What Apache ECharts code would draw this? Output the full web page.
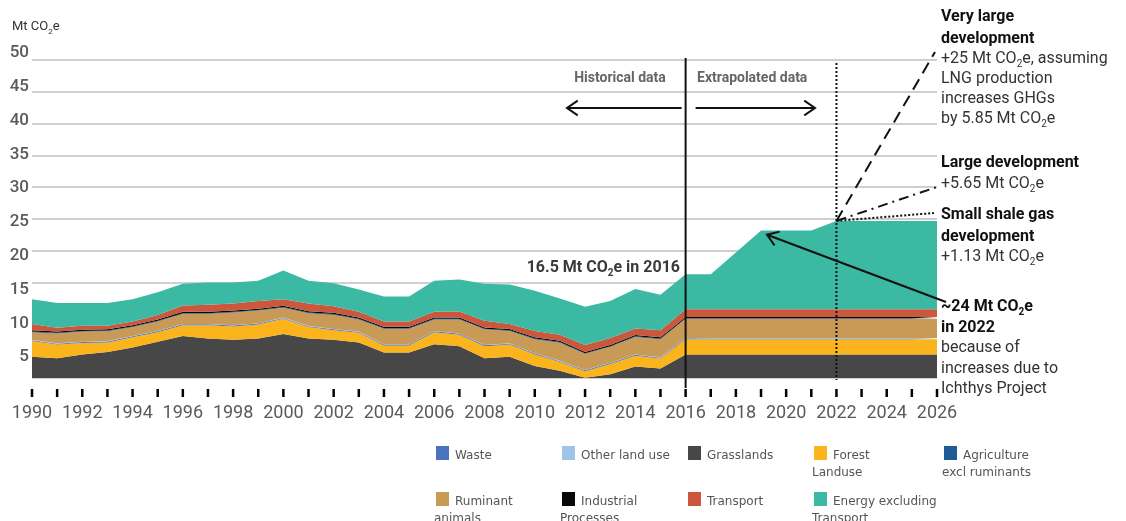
<!DOCTYPE html>
<html>
<head>
<meta charset="utf-8">
<script src="https://cdn.jsdelivr.net/npm/echarts@6/dist/echarts.min.js"></script>
<style>
html, body { margin: 0; padding: 0; background: #fff; }
#main { width: 1126px; height: 521px; }
</style>
</head>
<body>
<div id="main"></div>
<script>
// years on the x axis (historical to 2016, extrapolated after)
var years = ['1990','1991','1992','1993','1994','1995','1996','1997','1998','1999',
             '2000','2001','2002','2003','2004','2005','2006','2007','2008','2009',
             '2010','2011','2012','2013','2014','2015','2016','2017','2018','2019',
             '2020','2021','2022','2023','2024','2025','2026'];
var yTicks = [0, 5, 10, 15, 20, 25, 30, 35, 40, 45, 50];

// Mt CO2e by sector (stack order bottom -> top)
var grasslands = [3.35,3.1,3.7,4.1,4.8,5.7,6.6,6.2,6.0,6.2,6.9,6.2,6.0,5.6,4.0,4.0,5.3,5.0,3.1,3.35,
                  1.9,1.15,0.05,0.6,1.8,1.5,3.7,3.7,3.7,3.7,3.7,3.7,3.7,3.7,3.7,3.7,3.7];
var forest = [2.45,2.15,1.8,1.5,1.6,1.5,1.7,2.1,2.1,2.2,2.4,1.8,1.5,1.5,1.1,1.1,1.9,1.8,1.9,1.9,
              1.8,1.35,1.0,1.6,1.7,1.55,2.4,2.4,2.4,2.4,2.4,2.4,2.4,2.4,2.4,2.4,2.4];
var waste = [0.15,0.15,0.15,0.15,0.15,0.15,0.15,0.15,0.15,0.15,0.15,0.15,0.15,0.15,0.15,0.15,0.15,0.15,0.15,0.15,
             0.15,0.15,0.15,0.15,0.15,0.15,0.15,0.1,0.1,0.1,0.1,0.1,0.1,0.1,0.1,0.1,0.1];
var otherLand = [0.05,0.05,0.05,0.05,0.05,0.05,0.05,0.05,0.05,0.05,0.05,0.05,0.05,0.05,0.05,0.05,0.05,0.05,0.05,0.05,
                 0.05,0.05,0.05,0.05,0.05,0.05,0.05,0.1,0.1,0.1,0.1,0.1,0.1,0.1,0.1,0.1,0.1];
var ruminant = [1.2,1.55,1.6,1.55,1.4,1.5,1.6,1.6,2.0,2.0,1.55,2.0,2.25,1.9,2.45,2.45,1.8,2.2,2.45,1.95,
                2.2,2.85,2.55,2.5,2.75,2.85,3.0,3.0,3.0,3.0,3.0,3.0,3.0,3.0,3.0,3.0,3.0];
var agriculture = [0.1,0.1,0.1,0.1,0.1,0.1,0.1,0.1,0.1,0.1,0.1,0.1,0.1,0.1,0.1,0.1,0.1,0.1,0.1,0.1,
                   0.1,0.1,0.1,0.1,0.1,0.1,0.1,0.1,0.1,0.1,0.1,0.1,0.1,0.1,0.1,0.1,0.1];
var industrial = [0.2,0.2,0.2,0.2,0.2,0.2,0.2,0.2,0.2,0.2,0.2,0.2,0.2,0.2,0.2,0.2,0.2,0.2,0.2,0.2,
                  0.2,0.2,0.2,0.2,0.2,0.2,0.2,0.2,0.2,0.2,0.2,0.2,0.2,0.2,0.2,0.2,0.2];
var transport = [1.0,0.6,0.6,0.55,0.6,0.7,1.0,1.1,1.1,1.2,1.05,1.2,1.05,0.9,0.85,0.85,0.9,0.95,1.05,0.8,
                 1.0,0.95,1.1,1.1,1.05,1.1,1.2,1.2,1.2,1.2,1.2,1.2,1.2,1.2,1.2,1.2,1.2];
var energy = [3.9,3.9,3.6,3.6,3.5,3.6,3.4,3.5,3.3,3.2,4.5,3.6,3.6,3.5,3.9,3.9,4.9,5.05,5.8,6.2,
              6.3,5.7,6.0,5.8,6.2,5.6,5.5,5.5,8.95,12.4,12.4,12.4,13.9,13.9,13.9,13.9,13.9];

var stackNames = ['Grasslands','Forest Landuse','Waste','Other land use','Ruminant animals',
                  'Agriculture excl ruminants','Industrial Processes','Transport','Energy excluding Transport'];
var stackData = [grasslands, forest, waste, otherLand, ruminant, agriculture, industrial, transport, energy];
var colors = {
    'Waste': '#4a72c2',
    'Other land use': '#a0c4e8',
    'Grasslands': '#474747',
    'Forest Landuse': '#fbb41c',
    'Agriculture excl ruminants': '#1f5b95',
    'Ruminant animals': '#c99a56',
    'Industrial Processes': '#080808',
    'Transport': '#cb573c',
    'Energy excluding Transport': '#3bb9a3'
};

// legend layout: [name, first line, second line, square x, row y]
var legendItems = [
    ['Waste', 'Waste', '', 436, 446],
    ['Other land use', 'Other land use', '', 562, 446],
    ['Grasslands', 'Grasslands', '', 688, 446],
    ['Forest Landuse', 'Forest', 'Landuse', 814, 446],
    ['Agriculture excl ruminants', 'Agriculture', 'excl ruminants', 944, 446],
    ['Ruminant animals', 'Ruminant', 'animals', 436, 492],
    ['Industrial Processes', 'Industrial', 'Processes', 562, 492],
    ['Transport', 'Transport', '', 688, 492],
    ['Energy excluding Transport', 'Energy excluding', 'Transport', 814, 492]
];

var chart = echarts.init(document.getElementById('main'));

var series = stackNames.map(function (name, i) {
    return {
        name: name,
        type: 'line',
        stack: 'total',
        data: stackData[i],
        symbol: 'none',
        lineStyle: { width: 0 },
        areaStyle: { color: colors[name], opacity: 1 },
        itemStyle: { color: colors[name] },
        emphasis: { disabled: true },
        silent: true
    };
});

var option = {
    animation: false,
    grid: [
        { left: 32, right: 189, top: 60, bottom: 143, outerBoundsMode: 'none' },
        // the printed tick labels sit on a slightly looser spacing than the grid lines
        { left: 32, right: 189, top: 53, bottom: 130, outerBoundsMode: 'none' }
    ],
    xAxis: [{
        type: 'category',
        data: years,
        boundaryGap: false,
        offset: 10,
        axisLine: { show: false, onZero: false },
        axisTick: { show: false },
        axisLabel: {
            interval: 1, margin: 16, color: '#5a5a5a',
            fontFamily: 'Roboto', fontSize: 18
        },
        splitLine: { show: false }
    }, {
        gridIndex: 1, type: 'category', data: years, boundaryGap: false, show: false
    }],
    yAxis: [{
        type: 'value',
        min: yTicks[0],
        max: yTicks[yTicks.length - 1],
        interval: 5,
        axisLine: { show: false },
        axisTick: { show: false },
        axisLabel: { show: false },
        splitLine: { lineStyle: { color: '#cfcfcf', width: 2 } }
    }, {
        gridIndex: 1,
        type: 'value',
        min: yTicks[0],
        max: yTicks[yTicks.length - 1],
        interval: 5,
        axisLine: { show: false },
        axisTick: { show: false },
        splitLine: { show: false },
        axisLabel: {
            margin: 3, color: '#5a5a5a', fontFamily: 'Roboto', fontWeight: 500, fontSize: 17,
            formatter: function (v) { return v === 0 ? '' : String(v); }
        }
    }],
    series: series
};
chart.setOption(option);

// ---------- annotations ----------
function rt(s, base, sub) {
    return s.split('_2').map(function (p, i) {
        return (i > 0 ? '{' + sub + '|2}' : '') + (p ? '{' + base + '|' + p + '}' : '');
    }).join('');
}
function mkRich(size, color) {
    return {
        b: { fontFamily: 'Roboto', fontWeight: 'bold', fontSize: size, fill: color || '#111', lineHeight: size + 4 },
        r: { fontFamily: 'Roboto', fontSize: size, fill: color || '#333', lineHeight: size + 4 },
        sb: { fontFamily: 'Roboto', fontWeight: 'bold', fontSize: Math.round(size * 0.62), fill: color || '#111', lineHeight: 10, verticalAlign: 'bottom' },
        s: { fontFamily: 'Roboto', fontSize: Math.round(size * 0.62), fill: color || '#333', lineHeight: 10, verticalAlign: 'bottom' }
    };
}
function note(x, y, s, bold, size, align, color) {
    return {
        type: 'text', x: x, y: y, z: 100,
        style: {
            text: rt(s, bold ? 'b' : 'r', bold ? 'sb' : 's'),
            rich: mkRich(size || 16, color),
            align: align || 'left', verticalAlign: 'middle'
        }
    };
}
function line(x1, y1, x2, y2, dash, w) {
    return {
        type: 'line', z: 90,
        shape: { x1: x1, y1: y1, x2: x2, y2: y2 },
        style: { stroke: '#111', lineWidth: w || 2, lineDash: dash || null }
    };
}
function arrow(x1, y1, x2, y2) {
    var a = Math.atan2(y2 - y1, x2 - x1), L = 13, w = 0.6;
    return [
        line(x1, y1, x2, y2),
        {
            type: 'polyline', z: 90,
            shape: { points: [[x2 - L * Math.cos(a - w), y2 - L * Math.sin(a - w)], [x2, y2],
                              [x2 - L * Math.cos(a + w), y2 - L * Math.sin(a + w)]] },
            style: { stroke: '#111', lineWidth: 2, fill: null }
        }
    ];
}

var p2016 = chart.convertToPixel({ gridIndex: 0 }, ['2016', 0]);
var p2022 = chart.convertToPixel({ gridIndex: 0 }, ['2022', energy[32] + transport[32] + industrial[32] +
    agriculture[32] + ruminant[32] + otherLand[32] + waste[32] + forest[32] + grasslands[32]]);
var p2022base = chart.convertToPixel({ gridIndex: 0 }, ['2022', 0]);
var p2019 = chart.convertToPixel({ gridIndex: 0 }, ['2019', 23.0]);

var g = [];
// year ticks: short vertical strokes, one under each category
years.forEach(function (yr) {
    var p = chart.convertToPixel({ gridIndex: 0 }, [yr, 0]);
    g.push({ type: 'polyline', z: 95,
             shape: { points: [[p[0], 389], [p[0], 397]] },
             style: { stroke: '#000', lineWidth: 2.5, fill: null } });
});
// historical / extrapolated divider and 2022 marker
g.push(line(p2016[0], 58, p2016[0], 388, null, 2));
g.push(line(p2022base[0], 63, p2022base[0], p2022base[1] + 2, [2, 2], 2));
g.push(note(620, 78, 'Historical data', true, 14, 'center', '#666'));
g.push(note(697, 78, 'Extrapolated data', true, 14, 'left', '#666'));
g.push.apply(g, arrow(p2016[0] - 4, 108, 567, 108));
g.push.apply(g, arrow(p2016[0] + 10, 108, 815, 108));
// scenario lines from 2022
g.push(line(p2022[0], p2022[1], 935, 52, [12, 7], 2));
g.push(line(p2022[0], p2022[1], 937, 187, [10, 5, 2, 5], 2));
g.push(line(p2022[0], p2022[1], 934, 213, [2, 2], 2));
// arrow pointing at the 2019-2022 rise
g.push.apply(g, arrow(946, 302, p2019[0] + 6, p2019[1] + 3));

g.push(note(680, 268, '16.5 Mt CO_2e in 2016', true, 16, 'right', '#3a3a3a'));
g.push(note(12, 27, 'Mt CO_2e', false, 13, 'left', '#333'));

var rightNotes = [
    [17, 'Very large', true], [39, 'development', true], [59, '+25 Mt CO_2e, assuming', false],
    [79, 'LNG production', false], [99, 'increases GHGs', false], [119, 'by 5.85 Mt CO_2e', false],
    [163, 'Large development', true], [184, '+5.65 Mt CO_2e', false],
    [215, 'Small shale gas', true], [237, 'development', true], [257, '+1.13 Mt CO_2e', false],
    [307, '~24 Mt CO_2e', true], [328, 'in 2022', true], [348, 'because of', false],
    [369, 'increases due to', false], [389, 'Ichthys Project', false]
];
rightNotes.forEach(function (n) { g.push(note(941, n[0], n[1], n[2], 16)); });

// legend
legendItems.forEach(function (it) {
    g.push({ type: 'rect', shape: { x: it[3], y: it[4], width: 13, height: 14 }, style: { fill: colors[it[0]] } });
    g.push({ type: 'text', x: it[3] + 19, y: it[4] + 10,
             style: { text: it[1], fill: '#555', font: '12px "DejaVu Sans"', verticalAlign: 'middle' } });
    if (it[2]) {
        g.push({ type: 'text', x: it[3] - 2, y: it[4] + 27,
                 style: { text: it[2], fill: '#555', font: '12px "DejaVu Sans"', verticalAlign: 'middle' } });
    }
});

chart.setOption({ graphic: { elements: g } });
</script>
</body>
</html>
